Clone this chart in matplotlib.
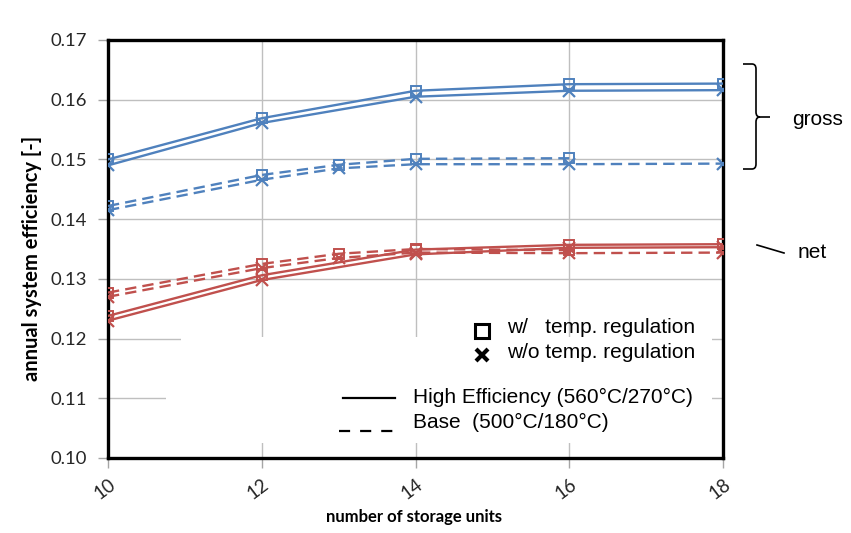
import matplotlib
matplotlib.use('Agg')
import matplotlib.pyplot as plt
from matplotlib.patches import Rectangle, PathPatch
from matplotlib.path import Path
from matplotlib.lines import Line2D

# ---------------- data ----------------
x_he = [10, 12, 14, 16, 18]
he_gross_w = [0.1500, 0.1569, 0.1615, 0.1626, 0.1627]
he_gross_wo = [0.1490, 0.1561, 0.1605, 0.1615, 0.1616]
he_net_w = [0.1238, 0.1306, 0.1349, 0.1357, 0.1358]
he_net_wo = [0.1230, 0.1298, 0.1341, 0.1352, 0.1353]

x_base_w = [10, 12, 13, 14, 16]
base_gross_w = [0.1422, 0.1474, 0.1491, 0.1501, 0.1502]
base_net_w = [0.1277, 0.1325, 0.1342, 0.1350, 0.1348]
x_base_wo = [10, 12, 13, 14, 16, 18]
base_gross_wo = [0.1415, 0.1466, 0.1485, 0.1492, 0.1492, 0.1493]
base_net_wo = [0.1270, 0.1318, 0.1335, 0.1344, 0.1343, 0.1344]

x_ticks = [10, 12, 14, 16, 18]
y_ticks = [0.10, 0.11, 0.12, 0.13, 0.14, 0.15, 0.16, 0.17]

BLUE = '#4F81BD'
RED = '#C0504D'
W, H = 851, 533

fig = plt.figure(figsize=(W / 100, H / 100), dpi=100)
ax = fig.add_axes([108 / W, 75 / H, 615 / W, 418 / H])
ax.set_axisbelow(True)

def fx(px):
    return px / W

def fy(py):
    return 1 - py / H

lw = 1.7
dash = (0, (4.8, 2.6))
ms_sq = 7
ms_x = 8.5

def plot_series(x, y, color, ls, marker):
    if marker == 's':
        ax.plot(x, y, color=color, lw=lw, ls=ls, marker='s', ms=ms_sq,
                mfc='none', mec=color, mew=1.4, zorder=3)
    else:
        ax.plot(x, y, color=color, lw=lw, ls=ls, marker='x', ms=ms_x,
                mec=color, mew=1.6, zorder=3)

plot_series(x_he, he_gross_w, BLUE, '-', 's')
plot_series(x_he, he_gross_wo, BLUE, '-', 'x')
plot_series(x_base_w, base_gross_w, BLUE, dash, 's')
plot_series(x_base_wo, base_gross_wo, BLUE, dash, 'x')
plot_series(x_he, he_net_w, RED, '-', 's')
plot_series(x_he, he_net_wo, RED, '-', 'x')
plot_series(x_base_w, base_net_w, RED, dash, 's')
plot_series(x_base_wo, base_net_wo, RED, dash, 'x')

ax.set_xlim(10, 18)
ax.set_ylim(0.10, 0.17)
ax.set_xticks(x_ticks)
ax.set_yticks(y_ticks)
ax.set_yticklabels([f'{v:.2f}' for v in y_ticks], fontfamily='Lato', fontsize=13.3)
ax.set_xticklabels([str(v) for v in x_ticks], fontfamily='Lato', fontsize=13.5,
                   rotation=37, ha='right', va='top', rotation_mode='anchor')
ax.tick_params(axis='both', colors='#a6a6a6', length=7, width=1, labelcolor='#262626')
ax.tick_params(axis='x', pad=6)
ax.tick_params(axis='y', pad=8)
ax.grid(True, color='#bfbfbf', lw=1)
for s in ax.spines.values():
    s.set_color('black')
    s.set_linewidth(2.4)

ax.set_ylabel('annual system efficiency [-]', fontfamily='Lato', fontweight='bold',
              fontsize=14.5, color='black')
ax.yaxis.set_label_coords((42 - 108) / 615, 0.478)
ax.set_xlabel('number of storage units', fontfamily='Lato', fontweight='bold',
              fontsize=12, color='black')
ax.xaxis.set_label_coords(0.498, (458 - 509) / 418)

# legend backgrounds (cover grid)
ax.add_patch(Rectangle(((181 - 108) / 615, (458 - 390) / 418), (712 - 181) / 615,
                       (390 - 337) / 418, transform=ax.transAxes, fc='white', ec='none', zorder=1))
ax.add_patch(Rectangle(((166 - 108) / 615, (458 - 443) / 418), (712 - 166) / 615,
                       (443 - 390) / 418, transform=ax.transAxes, fc='white', ec='none', zorder=1))

LF = 'Liberation Sans'
fs = 15
fig.add_artist(Line2D([fx(482)], [fy(331)], marker='s', ms=10, mfc='none', mec='black',
                      mew=2.2, transform=fig.transFigure))
fig.add_artist(Line2D([fx(482)], [fy(355)], marker='x', ms=9, mec='black',
                      mew=3, transform=fig.transFigure))
fig.text(fx(507), fy(333), 'w/   temp. regulation', fontfamily=LF, fontsize=fs, va='baseline')
fig.text(fx(507), fy(358), 'w/o temp. regulation', fontfamily=LF, fontsize=fs, va='baseline')
fig.add_artist(Line2D([fx(343), fx(395)], [fy(398), fy(398)], color='black', lw=1.6,
                      transform=fig.transFigure))
fig.add_artist(Line2D([fx(339), fx(393)], [fy(431), fy(431)], color='black', lw=1.6,
                      ls=(0, (5, 4.5)), transform=fig.transFigure))
fig.text(fx(413), fy(403), 'High Efficiency (560°C/270°C)', fontfamily=LF, fontsize=fs, va='baseline')
fig.text(fx(413), fy(428), 'Base  (500°C/180°C)', fontfamily=LF, fontsize=fs, va='baseline')

# brace "gross"
pts = [(743, 64), (752, 64), (756, 64), (756, 69), (756, 112), (756, 117), (760, 117), (770, 117),
       (760, 117), (756, 117), (756, 122), (756, 164), (756, 169), (752, 169), (743, 169)]
codes = [Path.MOVETO, Path.LINETO, Path.CURVE3, Path.CURVE3, Path.LINETO, Path.CURVE3, Path.CURVE3,
         Path.LINETO, Path.MOVETO, Path.CURVE3, Path.CURVE3, Path.LINETO, Path.CURVE3, Path.CURVE3,
         Path.LINETO]
verts = [(fx(a), fy(b)) for a, b in pts]
fig.add_artist(PathPatch(Path(verts, codes), fc='none', ec='black', lw=1.2,
                         transform=fig.transFigure))
fig.text(fx(792), fy(125), 'gross', fontfamily=LF, fontsize=fs, va='baseline')
fig.add_artist(Line2D([fx(757), fx(784)], [fy(245), fy(253)], color='black', lw=1.2,
                      transform=fig.transFigure))
fig.text(fx(798), fy(258), 'net', fontfamily=LF, fontsize=fs, va='baseline')

fig.savefig('out.png', dpi=100)
